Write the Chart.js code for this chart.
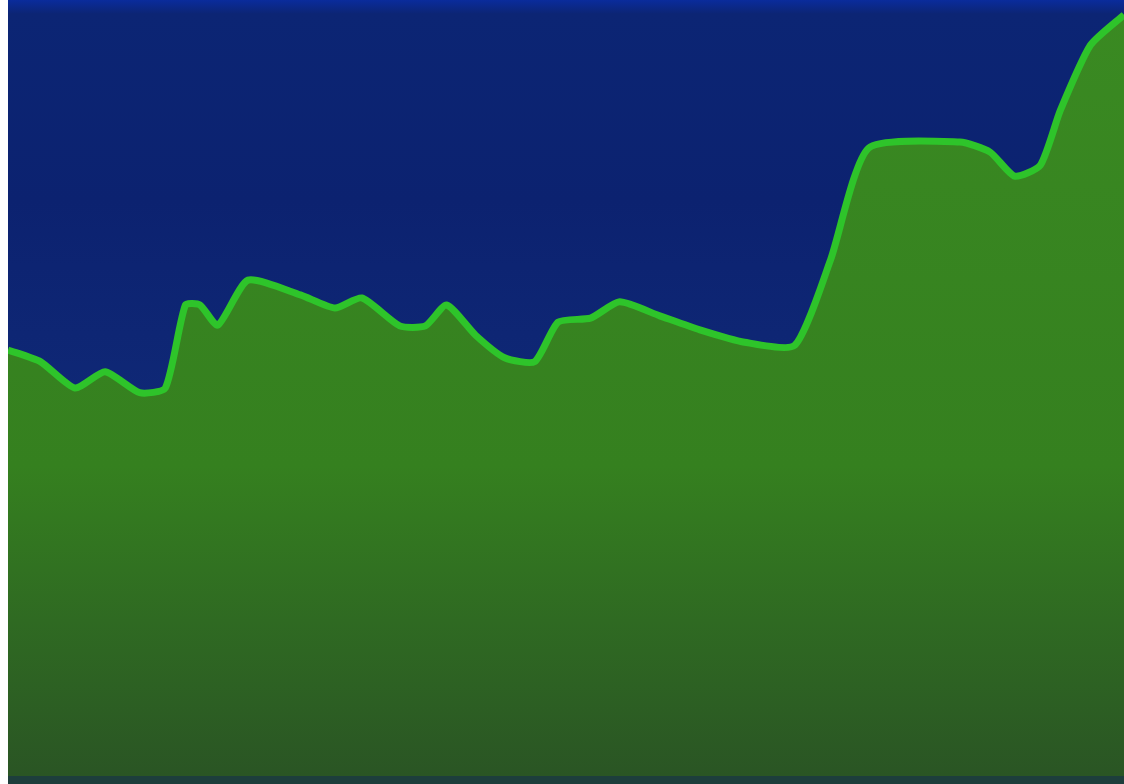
<!DOCTYPE html>
<html>
<head>
<meta charset="utf-8">
<script src="https://cdn.jsdelivr.net/npm/chart.js@4"></script>
<style>
  body { margin: 0; background: #fff; width: 1124px; height: 784px; overflow: hidden; }
  #wrap { position: absolute; left: 8px; top: 0; width: 1116px; height: 776px;
    background: linear-gradient(to bottom, #0a2c9c 0px, #0c2574 14px, #0c2270 200px, #0f2876 400px); }
  #strip { position: absolute; left: 8px; top: 776px; width: 1116px; height: 8px; background: #1d3e3c; }
</style>
</head>
<body>
<div id="wrap"><canvas id="area"></canvas></div>
<div id="strip"></div>
<script>
// positions along the run (0-100) and the level at each one (0-100)
const xs = [0, 2.9, 6.0, 8.7, 11.8, 14.1, 15.9, 17.2, 18.8, 21.5, 26.2, 29.3, 31.7, 35.1, 37.4, 39.3,
  41.9, 44.5, 47.2, 49.3, 52.2, 54.8, 58.4, 62.0, 66.0, 70.5, 73.7, 77.1, 85.3, 88.0, 90.2, 92.5,
  94.3, 97.0, 100];
const levels = [54.9, 53.4, 50.0, 52.1, 49.4, 50.0, 60.7, 60.7, 58.1, 63.9, 62.0, 60.3, 61.6, 58.0,
  58.0, 60.7, 56.8, 53.9, 53.4, 58.5, 59.0, 61.1, 59.3, 57.5, 55.9, 55.5, 66.5, 80.9, 81.7, 80.4,
  77.3, 78.7, 85.8, 94.2, 98.1];

const points = xs.map((x, i) => ({ x: x, y: levels[i] }));

const fillGradient = (context) => {
  const area = context.chart.chartArea;
  if (!area) return '#35801f';
  const g = context.chart.ctx.createLinearGradient(0, area.top, 0, area.bottom);
  g.addColorStop(0, '#3a8a22');
  g.addColorStop(0.6, '#35801f');
  g.addColorStop(0.8, '#2f6a22');
  g.addColorStop(1, '#2a5524');
  return g;
};

const ctx = document.querySelector('#area');
new Chart(ctx, {
  type: 'line',
  data: {
    datasets: [{
      data: points,
      borderColor: '#2ec42a',
      borderWidth: 7,
      backgroundColor: fillGradient,
      fill: 'origin',
      tension: 0.2,
      pointRadius: 0
    }]
  },
  options: {
    responsive: true,
    maintainAspectRatio: false,
    animation: false,
    layout: { padding: 0 },
    plugins: { legend: { display: false }, tooltip: { enabled: false } },
    scales: {
      x: { type: 'linear', min: 0, max: 100, display: false },
      y: { min: 0, max: 100, display: false }
    }
  }
});
</script>
</body>
</html>
